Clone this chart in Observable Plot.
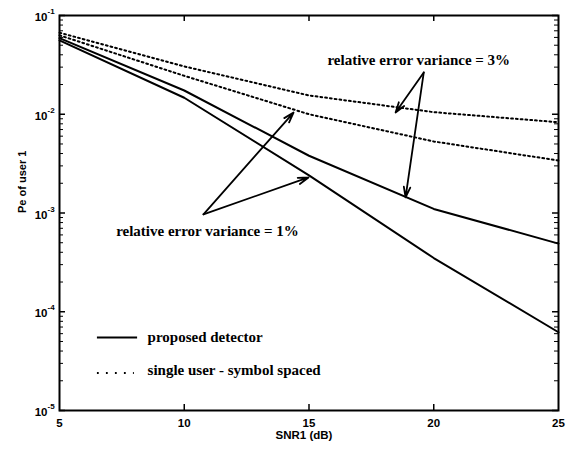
<!DOCTYPE html>
<html>
<head>
<meta charset="utf-8">
<script src="https://cdn.jsdelivr.net/npm/d3@7"></script>
<script src="https://cdn.jsdelivr.net/npm/@observablehq/plot@0.6"></script>
<style>
  html, body { margin: 0; padding: 0; background: #fff; }
  svg { display: block; }
</style>
</head>
<body>
<div id="chart"></div>
<script>
// SNR1 (dB) sample points
const snr = [5, 10, 15, 20, 25];
// proposed detector, relative error variance 1% and 3%
const proposed1 = [0.056, 0.0147, 0.0024, 0.00035, 0.000062];
const proposed3 = [0.059, 0.0174, 0.0038, 0.0011, 0.00049];
// single user - symbol spaced, 1% and 3%
const single1 = [0.063, 0.0245, 0.010, 0.0053, 0.0034];
const single3 = [0.067, 0.0305, 0.0155, 0.0105, 0.0083];

const xTicks = [5, 10, 15, 20, 25];
const yTicks = [1e-1, 1e-2, 1e-3, 1e-4, 1e-5];
const yExps = ["-1", "-2", "-3", "-4", "-5"];

// annotations (data coordinates)
const ann3 = {text: "relative error variance = 3%", x: 19.4, y: 0.035, fromX: 19.6, fromY: 0.0265,
  to: [[18.47, 0.0104], [18.87, 0.00144]]};
const ann1 = {text: "relative error variance = 1%", x: 10.93, y: 0.00066, fromX: 10.77, fromY: 0.00097,
  to: [[14.38, 0.0104], [14.98, 0.00229]]};
const legendItems = ["proposed detector", "single user - symbol spaced"];

const toRows = (ys, key) => snr.map((x, i) => ({x, y: ys[i], key}));
const solidRows = [...toRows(proposed1, "p1"), ...toRows(proposed3, "p3")];
const dottedRows = [...toRows(single1, "s1"), ...toRows(single3, "s3")];

const minorY = [];
for (let e = -5; e < -1; e++) for (let m = 2; m <= 9; m++) minorY.push(m * Math.pow(10, e));

const arrows = [...ann3.to.map(([x, y]) => ({x1: ann3.fromX, y1: ann3.fromY, x2: x, y2: y})),
                ...ann1.to.map(([x, y]) => ({x1: ann1.fromX, y1: ann1.fromY, x2: x, y2: y}))];

const W = 574, H = 449, ML = 59, MR = 16, MT = 15, MB = 39;
const PW = W - ML - MR, PH = H - MT - MB;

const sans = "Liberation Sans, Arial, sans-serif";
const serif = "Liberation Serif, Times New Roman, serif";

const chart = Plot.plot({
  width: W,
  height: H,
  marginLeft: ML,
  marginRight: MR,
  marginTop: MT,
  marginBottom: MB,
  style: {fontFamily: sans, background: "#fff"},
  x: {domain: [5, 25], axis: null},
  y: {type: "log", domain: [1e-5, 1e-1], axis: null},
  marks: [
    // inward ticks
    Plot.tickX(xTicks.slice(1, -1), {x: d => d, insetTop: PH - 6, stroke: "#000", strokeWidth: 1.5}),
    Plot.tickX(xTicks.slice(1, -1), {x: d => d, insetBottom: PH - 6, stroke: "#000", strokeWidth: 1.5}),
    Plot.tickY(yTicks, {y: d => d, insetRight: PW - 6, stroke: "#000", strokeWidth: 1.5}),
    Plot.tickY(yTicks, {y: d => d, insetLeft: PW - 6, stroke: "#000", strokeWidth: 1.5}),
    Plot.tickY(minorY, {y: d => d, insetRight: PW - 4, stroke: "#000", strokeWidth: 1}),
    Plot.tickY(minorY, {y: d => d, insetLeft: PW - 4, stroke: "#000", strokeWidth: 1}),
    // tick labels
    Plot.text(xTicks, {x: d => d, y: () => 1e-5, dy: 13, fontSize: 11.5, fontWeight: "bold", fontFamily: sans}),
    Plot.text(yTicks, {x: () => 5, y: d => d, text: () => "10", dx: -12, dy: 2, textAnchor: "end", fontSize: 11.5, fontWeight: "bold", fontFamily: sans}),
    Plot.text(yTicks, {x: () => 5, y: d => d, text: (d, i) => yExps[i], dx: -12, dy: -4, textAnchor: "start", fontSize: 8, fontWeight: "bold", fontFamily: sans}),
    // axis titles
    Plot.text(["SNR1 (dB)"], {frameAnchor: "bottom", dx: -5, dy: 28, fontSize: 11.5, fontWeight: "bold", fontFamily: sans}),
    Plot.text(["Pe of user 1"], {frameAnchor: "left", dx: -37, rotate: -90, fontSize: 11, fontWeight: "bold", fontFamily: sans}),
    // curves
    Plot.line(solidRows, {x: "x", y: "y", z: "key", stroke: "#000", strokeWidth: 2}),
    Plot.line(dottedRows, {x: "x", y: "y", z: "key", stroke: "#000", strokeWidth: 2, strokeDasharray: "1.8,3"}),
    // annotations
    Plot.arrow(arrows, {x1: "x1", y1: "y1", x2: "x2", y2: "y2", stroke: "#000", strokeWidth: 1.8, headLength: 9, headAngle: 35}),
    Plot.text([ann3], {x: "x", y: "y", text: "text", fontSize: 15, fontWeight: "bold", fontFamily: serif}),
    Plot.text([ann1], {x: "x", y: "y", text: "text", fontSize: 15, fontWeight: "bold", fontFamily: serif}),
    // legend
    Plot.ruleY([5.5e-5], {x1: 6.52, x2: 8.13, stroke: "#000", strokeWidth: 2}),
    Plot.ruleY([2.4e-5], {x1: 6.52, x2: 8.0, stroke: "#000", strokeWidth: 2, strokeDasharray: "1.8,7.2"}),
    Plot.text(legendItems, {x: () => 8.53, y: (d, i) => [5.5e-5, 2.55e-5][i], textAnchor: "start", fontSize: 15, fontWeight: "bold", fontFamily: serif}),
    Plot.frame({stroke: "#000", strokeWidth: 2})
  ]
});

document.getElementById("chart").appendChild(chart);
</script>
</body>
</html>
